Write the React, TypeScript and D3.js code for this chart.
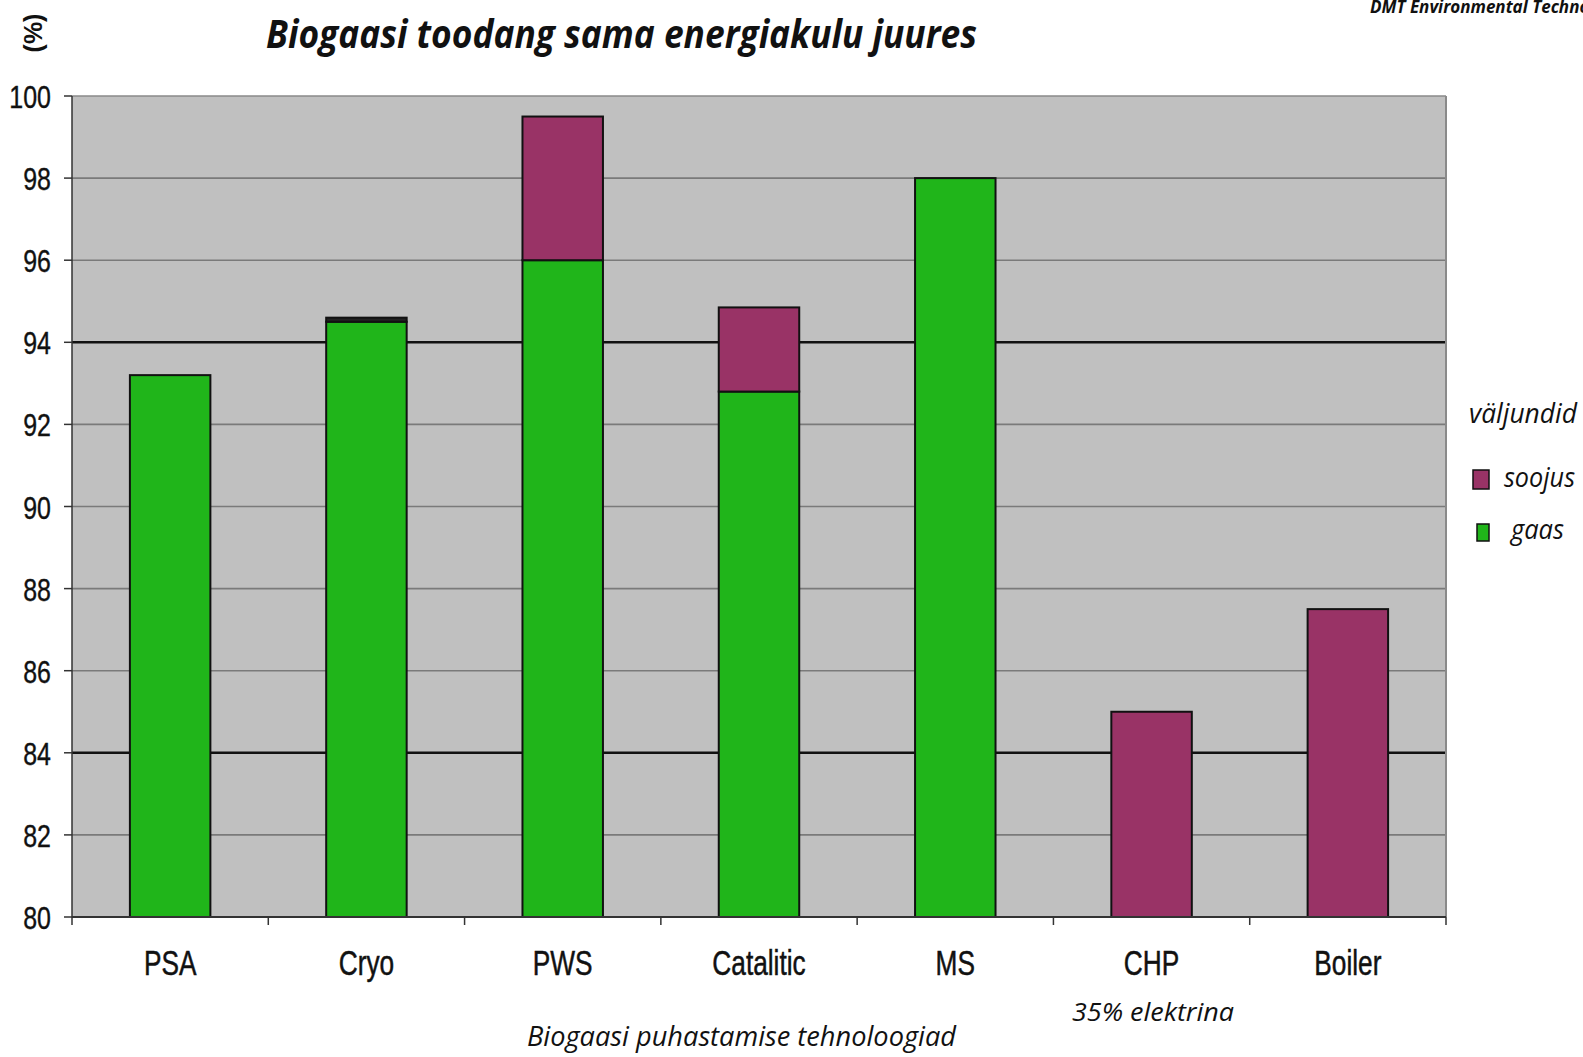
import { useEffect, useRef } from 'react';
import * as d3 from 'd3';

const categories = ['PSA', 'Cryo', 'PWS', 'Catalitic', 'MS', 'CHP', 'Boiler'];
// gaas = absolute level of the gas share, soojus = heat stacked on top
const gaas = [93.2, 94.5, 96.0, 92.8, 98.0, 0, 0];
const soojus = [0, 0.1, 3.5, 2.05, 0, 85.0, 87.5];
const yTicks = [80, 82, 84, 86, 88, 90, 92, 94, 96, 98, 100];
const darkLines = [84, 94];

const GREEN = '#20b51a';
const PURPLE = '#993366';

export default function App() {
  const ref = useRef<SVGSVGElement>(null);

  useEffect(() => {
    if (!ref.current) return;
    const W = 1583, H = 1057;
    const svg = d3.select(ref.current).attr('width', W).attr('height', H);
    svg.selectAll('*').remove();

    const left = 72, right = 1446, top = 96, bottom = 917;
    const x = d3.scaleBand<string>().domain(categories).range([left, right]).paddingInner(0.59).paddingOuter(0.295);
    const xb = d3.scaleBand<string>().domain(categories).range([left, right]);
    const y = d3.scaleLinear().domain([80, 100]).range([bottom, top]).clamp(true);

    const rows = categories.map((c, i) => ({ cat: c, gaas: gaas[i], soojus: soojus[i] }));
    const stack = d3.stack<any>().keys(['gaas', 'soojus'])(rows);

    // plot background
    svg.append('rect').attr('x', left).attr('y', top).attr('width', right - left).attr('height', bottom - top)
      .attr('fill', '#c0c0c0');

    // gridlines
    yTicks.filter(t => t > 80).forEach(t => {
      const dark = darkLines.includes(t);
      svg.append('line').attr('x1', left).attr('x2', right).attr('y1', y(t)).attr('y2', y(t))
        .attr('stroke', dark ? '#111' : (t === 100 ? '#8a8a8a' : '#7a7a7a'))
        .attr('stroke-width', dark ? 2.5 : 1.6);
    });
    svg.append('line').attr('x1', right).attr('x2', right).attr('y1', top).attr('y2', bottom)
      .attr('stroke', '#8a8a8a').attr('stroke-width', 2);

    // bars
    const colors: Record<string, string> = { gaas: GREEN, soojus: PURPLE };
    stack.forEach(layer => {
      layer.forEach((d: any) => {
        if (d[1] - d[0] <= 0) return;
        const thin = y(d[0]) - y(d[1]) < 6;
        svg.append('rect')
          .attr('x', x(d.data.cat)!).attr('width', x.bandwidth())
          .attr('y', y(d[1])).attr('height', y(d[0]) - y(d[1]))
          .attr('fill', thin ? '#222' : colors[layer.key]).attr('stroke', '#111').attr('stroke-width', 2);
      });
    });

    // axes
    svg.append('line').attr('x1', left).attr('x2', left).attr('y1', top).attr('y2', bottom)
      .attr('stroke', '#333').attr('stroke-width', 1.5);
    svg.append('line').attr('x1', left).attr('x2', right).attr('y1', bottom).attr('y2', bottom)
      .attr('stroke', '#333').attr('stroke-width', 2);
    yTicks.forEach(t => {
      svg.append('line').attr('x1', left - 8).attr('x2', left).attr('y1', y(t)).attr('y2', y(t))
        .attr('stroke', '#333').attr('stroke-width', 1.5);
      svg.append('text')
        .attr('transform', `translate(51,${y(t) + 12}) scale(0.78,1)`)
        .attr('text-anchor', 'end').attr('font-family', 'Liberation Sans, Arial, sans-serif')
        .attr('font-size', 32).attr('fill', '#111').attr('stroke', '#111').attr('stroke-width', 0.4).text(t);
    });
    const bounds = categories.map(c => xb(c)!).concat([right]);
    bounds.forEach(b => {
      svg.append('line').attr('x1', b).attr('x2', b).attr('y1', bottom).attr('y2', bottom + 8)
        .attr('stroke', '#333').attr('stroke-width', 1.5);
    });
    categories.forEach(c => {
      svg.append('text')
        .attr('transform', `translate(${xb(c)! + xb.bandwidth() / 2},975) scale(0.75,1)`)
        .attr('text-anchor', 'middle').attr('font-family', 'Liberation Sans, Arial, sans-serif')
        .attr('font-size', 35).attr('fill', '#111').attr('stroke', '#111').attr('stroke-width', 0.5).text(c);
    });

    // titles
    svg.append('text').attr('x', 266).attr('y', 48).attr('textLength', 711).attr('lengthAdjust', 'spacingAndGlyphs')
      .attr('font-family', 'Open Sans, sans-serif').attr('font-weight', 'bold').attr('font-style', 'italic')
      .attr('font-size', 40).attr('fill', '#111').text('Biogaasi toodang sama energiakulu juures');
    svg.append('text').attr('x', 1370).attr('y', 13)
      .attr('font-family', 'Open Sans, sans-serif').attr('font-weight', 'bold').attr('font-style', 'italic')
      .attr('font-size', 17).attr('fill', '#111').text('DMT Environmental Technology');
    svg.append('text').attr('transform', 'translate(42,33) rotate(-90)').attr('text-anchor', 'middle')
      .attr('font-family', 'Liberation Sans, Arial, sans-serif').attr('font-weight', 'bold')
      .attr('font-size', 25).attr('fill', '#111').text('(%)');
    svg.append('text').attr('x', 1072).attr('y', 1021).attr('textLength', 162).attr('lengthAdjust', 'spacingAndGlyphs')
      .attr('font-family', 'Open Sans, sans-serif').attr('font-style', 'italic')
      .attr('font-size', 26).attr('fill', '#111').text('35% elektrina');
    svg.append('text').attr('x', 527).attr('y', 1046).attr('textLength', 429).attr('lengthAdjust', 'spacingAndGlyphs')
      .attr('font-family', 'Open Sans, sans-serif').attr('font-style', 'italic')
      .attr('font-size', 28).attr('fill', '#111').text('Biogaasi  puhastamise tehnoloogiad');

    // legend
    svg.append('text').attr('x', 1469).attr('y', 423).attr('textLength', 108).attr('lengthAdjust', 'spacingAndGlyphs')
      .attr('font-family', 'Open Sans, sans-serif').attr('font-style', 'italic')
      .attr('font-size', 28).attr('fill', '#111').text('väljundid');
    const legend = [
      { key: 'soojus', color: PURPLE, sx: 1473, sy: 470, sw: 16, sh: 19, tx: 1504, ty: 487, tl: 71 },
      { key: 'gaas', color: GREEN, sx: 1477, sy: 524, sw: 12, sh: 17, tx: 1511, ty: 539, tl: 53 },
    ];
    legend.forEach(l => {
      svg.append('rect').attr('x', l.sx).attr('y', l.sy).attr('width', l.sw).attr('height', l.sh)
        .attr('fill', l.color).attr('stroke', '#111').attr('stroke-width', 1.5);
      svg.append('text').attr('x', l.tx).attr('y', l.ty).attr('textLength', l.tl).attr('lengthAdjust', 'spacingAndGlyphs')
        .attr('font-family', 'Open Sans, sans-serif').attr('font-style', 'italic')
        .attr('font-size', 27).attr('fill', '#111').text(l.key);
    });
  }, []);

  return (
    <div style={{ position: 'absolute', left: 0, top: 0, background: '#fff' }}>
      <svg ref={ref} style={{ display: 'block' }} />
    </div>
  );
}
